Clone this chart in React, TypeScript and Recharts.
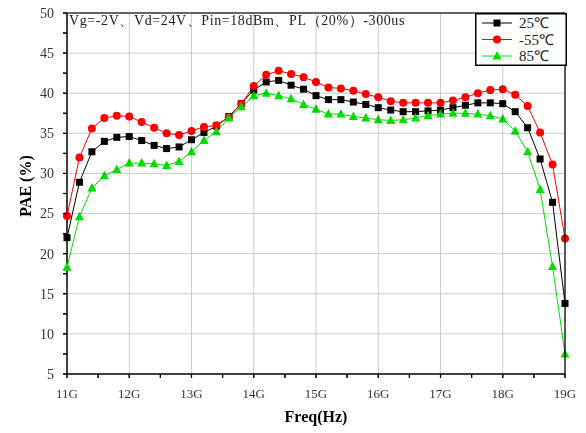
import React from 'react';
import { LineChart, Line, XAxis, YAxis } from 'recharts';

const FREQ = [
  11.0, 11.2, 11.4, 11.6, 11.8, 12.0, 12.2, 12.4, 12.6, 12.8,
  13.0, 13.2, 13.4, 13.6, 13.8, 14.0, 14.2, 14.4, 14.6, 14.8,
  15.0, 15.2, 15.4, 15.6, 15.8, 16.0, 16.2, 16.4, 16.6, 16.8,
  17.0, 17.2, 17.4, 17.6, 17.8, 18.0, 18.2, 18.4, 18.6, 18.8, 19.0,
];

const PAE_25 = [
  22.0, 28.9, 32.7, 34.0, 34.5, 34.6, 34.1, 33.5, 33.1, 33.3,
  34.2, 35.1, 35.9, 37.1, 38.7, 40.4, 41.4, 41.6, 41.0, 40.5,
  39.7, 39.2, 39.2, 38.9, 38.6, 38.2, 37.9, 37.7, 37.7, 37.8,
  37.9, 38.2, 38.5, 38.8, 38.8, 38.7, 37.7, 35.7, 31.8, 26.4, 13.8,
];

const PAE_M55 = [
  24.7, 32.0, 35.6, 36.9, 37.2, 37.1, 36.4, 35.7, 35.0, 34.8,
  35.3, 35.8, 36.0, 37.0, 38.7, 40.9, 42.3, 42.8, 42.4, 42.0,
  41.4, 40.7, 40.6, 40.3, 39.9, 39.5, 39.0, 38.8, 38.8, 38.8,
  38.8, 39.1, 39.5, 40.0, 40.4, 40.5, 39.8, 38.4, 35.1, 31.1, 21.9,
];

const PAE_85 = [
  18.3, 24.6, 28.2, 29.7, 30.5, 31.3, 31.3, 31.2, 31.0, 31.5,
  32.7, 34.1, 35.2, 36.9, 38.3, 39.7, 40.0, 39.7, 39.3, 38.6,
  38.0, 37.4, 37.4, 37.1, 36.9, 36.7, 36.6, 36.7, 36.9, 37.2,
  37.4, 37.5, 37.5, 37.4, 37.2, 36.8, 35.3, 32.7, 28.0, 18.4, 7.5,
];

const X_TICKS = [11, 11.5, 12, 12.5, 13, 13.5, 14, 14.5, 15, 15.5, 16, 16.5, 17, 17.5, 18, 18.5, 19];
const X_GRID = [12, 13, 14, 15, 16, 17, 18];
const Y_TICKS = [5, 7.5, 10, 12.5, 15, 17.5, 20, 22.5, 25, 27.5, 30, 32.5, 35, 37.5, 40, 42.5, 45, 47.5, 50];
const Y_GRID = [10, 15, 20, 25, 30, 35, 40, 45];
const X_DOMAIN = [11, 19];
const Y_DOMAIN = [5, 50];

const SERIES = [
  { key: 't25', name: '25℃', color: '#000000', shape: 'square' },
  { key: 'm55', name: '-55℃', color: '#ff0000', shape: 'circle' },
  { key: 't85', name: '85℃', color: '#00dd00', shape: 'triangle' },
];

const NOTE = 'Vg=-2V、Vd=24V、Pin=18dBm、PL（20%）-300us';

const data = FREQ.map((f, i) => ({ f, t25: PAE_25[i], m55: PAE_M55[i], t85: PAE_85[i] }));

const serif = "'Liberation Serif', 'Times New Roman', serif";

// plot box follows from the chart margins and axis sizes
const W = 586;
const H = 433;
const M = { top: 13, right: 21, bottom: 0, left: 0 };
const Y_AXIS_W = 67;
const X_AXIS_H = 59;
const PLOT_TOP = M.top;
const PLOT_BOTTOM = H - M.bottom - X_AXIS_H;
const PLOT_LEFT = M.left + Y_AXIS_W;
const PLOT_RIGHT = W - M.right;

// same linear mapping as the chart's axes, used for the grid layer
const gx = (v: number) => PLOT_LEFT + ((v - X_DOMAIN[0]) / (X_DOMAIN[1] - X_DOMAIN[0])) * (PLOT_RIGHT - PLOT_LEFT);
const gy = (v: number) => PLOT_BOTTOM - ((v - Y_DOMAIN[0]) / (Y_DOMAIN[1] - Y_DOMAIN[0])) * (PLOT_BOTTOM - PLOT_TOP);

function Marker({ cx, cy, shape, color }: any) {
  if (cx == null || cy == null) return null;
  if (shape === 'square') return <rect x={cx - 3.5} y={cy - 3.5} width={7} height={7} fill={color} />;
  if (shape === 'circle') return <circle cx={cx} cy={cy} r={4} fill={color} />;
  return <polygon points={`${cx},${cy - 5} ${cx - 4.5},${cy + 3.5} ${cx + 4.5},${cy + 3.5}`} fill={color} />;
}

const XTick = ({ x, y, payload }: any) => {
  const v = payload.value;
  if (v % 1 !== 0) return <g />;
  return (
    <text x={x} y={y} dy="0.71em" textAnchor="middle" fontSize={13} fontFamily={serif} fill="#333">
      {`${v}G`}
    </text>
  );
};

const YTick = ({ x, y, payload }: any) => {
  const v = payload.value;
  if (v % 5 !== 0) return <g />;
  return (
    <text x={x} y={y} dy="0.35em" textAnchor="end" fontSize={14} fontFamily={serif} fill="#333">
      {v}
    </text>
  );
};

// grid, frame and tick marks, blended so the data stays on top visually
const GridLayer = () => (
  <svg width={W} height={H} style={{ position: 'absolute', left: 0, top: 0, pointerEvents: 'none', mixBlendMode: 'multiply' }}>
    {X_GRID.map((v) => (
      <line key={'gx' + v} x1={gx(v)} x2={gx(v)} y1={PLOT_TOP} y2={PLOT_BOTTOM} stroke="#cccccc" strokeWidth={1} />
    ))}
    {Y_GRID.map((v) => (
      <line key={'gy' + v} x1={PLOT_LEFT} x2={PLOT_RIGHT} y1={gy(v)} y2={gy(v)} stroke="#cccccc" strokeWidth={1} />
    ))}
    {X_TICKS.map((v) => (
      <line key={'tx' + v} x1={gx(v)} x2={gx(v)} y1={PLOT_BOTTOM} y2={PLOT_BOTTOM + 4} stroke="#000" strokeWidth={1.2} />
    ))}
    {Y_TICKS.map((v) => (
      <line key={'ty' + v} x1={PLOT_LEFT - 4} x2={PLOT_LEFT} y1={gy(v)} y2={gy(v)} stroke="#000" strokeWidth={1.2} />
    ))}
    <line x1={PLOT_LEFT} x2={PLOT_RIGHT} y1={PLOT_TOP} y2={PLOT_TOP} stroke="#333" strokeWidth={1.5} />
    <line x1={PLOT_RIGHT} x2={PLOT_RIGHT} y1={PLOT_TOP} y2={PLOT_BOTTOM} stroke="#222" strokeWidth={1.5} />
  </svg>
);

const Overlay = () => (
  <svg width={W} height={H} style={{ position: 'absolute', left: 0, top: 0, pointerEvents: 'none' }}>
    <text x={316} y={416} dy="0.35em" textAnchor="middle" fontSize={16} fontWeight="bold" fontFamily={serif} fill="#000">
      Freq(Hz)
    </text>
    <text x={25} y={186} dy="0.35em" textAnchor="middle" fontSize={16} fontWeight="bold" fontFamily={serif} fill="#000" transform="rotate(-90 25 186)">
      PAE (%)
    </text>
    <g transform="translate(475,13)">
      <rect x={0.75} y={0.75} width={90.5} height={51.5} fill="#fff" stroke="#000" strokeWidth={1.5} />
      {SERIES.map((s, i) => {
        const y = 10 + i * 16.5;
        return (
          <g key={s.key}>
            <line x1={7} x2={37} y1={y} y2={y} stroke={s.color} strokeWidth={1} />
            <Marker cx={22} cy={y} shape={s.shape} color={s.color} />
            <text x={44} y={y} dy="0.35em" fontSize={15} fontFamily={serif} fill="#222">{s.name}</text>
          </g>
        );
      })}
    </g>
  </svg>
);

export default function App() {
  return (
    <div style={{ position: 'fixed', left: 0, top: 0, width: W, height: H, background: '#fff', isolation: 'isolate' }}>
      <LineChart width={W} height={H} data={data} margin={M}>
        <XAxis
          dataKey="f"
          type="number"
          domain={X_DOMAIN}
          ticks={X_TICKS}
          tick={<XTick />}
          tickSize={4}
          tickMargin={11}
          height={X_AXIS_H}
          axisLine={{ stroke: '#000', strokeWidth: 1.5 }}
          tickLine={{ stroke: '#000', strokeWidth: 1 }}
          interval={0}
        />
        <YAxis
          type="number"
          domain={Y_DOMAIN}
          ticks={Y_TICKS}
          tick={<YTick />}
          tickSize={4}
          tickMargin={9}
          width={Y_AXIS_W}
          axisLine={{ stroke: '#000', strokeWidth: 1.5 }}
          tickLine={{ stroke: '#000', strokeWidth: 1 }}
          interval={0}
        />
        {SERIES.map((s) => (
          <Line
            key={s.key}
            dataKey={s.key}
            name={s.name}
            stroke={s.color}
            strokeWidth={1}
            isAnimationActive={false}
            dot={(p: any) => <Marker key={s.key + p.index} cx={p.cx} cy={p.cy} shape={s.shape} color={s.color} />}
            activeDot={false}
          />
        ))}
      </LineChart>
      <GridLayer />
      <div
        style={{
          position: 'absolute',
          left: 69,
          top: 12,
          fontFamily: serif,
          fontSize: 14,
          letterSpacing: '0.6px',
          color: '#222',
          whiteSpace: 'pre',
          lineHeight: '18px',
        }}
      >
        {NOTE}
      </div>
      <Overlay />
    </div>
  );
}
